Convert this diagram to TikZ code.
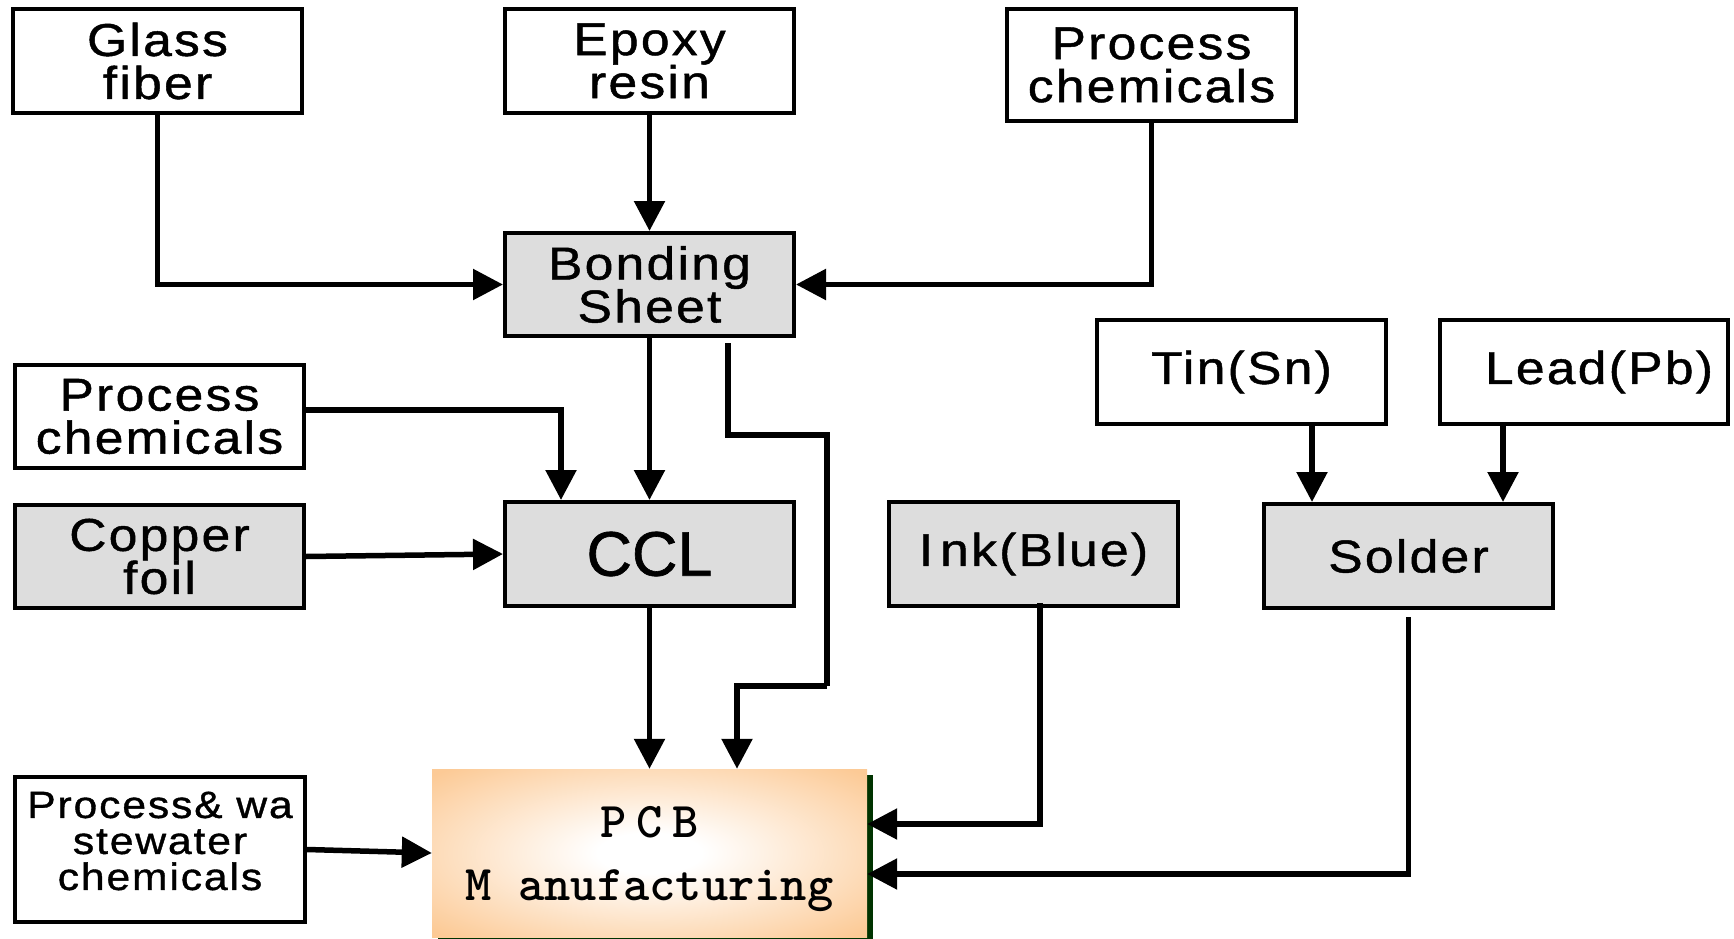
\documentclass[tikz,border=0pt]{standalone}
\usepackage{fontspec}
\usetikzlibrary{arrows.meta,shadows}

% label face: slightly widened sans with a touch of tracking
\newfontfamily\lblfont[FakeStretch=1.12,LetterSpace=5,FakeBold=1]{Liberation Sans}
% plain face for the large CCL caption
\newfontfamily\bigfont[FakeBold=1]{Liberation Sans}

\definecolor{boxgray}{RGB}{221,221,221}
\definecolor{pcborange}{RGB}{252,202,150}
\definecolor{pcbgreen}{RGB}{0,51,0}

% soft glow for the manufacturing block
\pgfdeclareradialshading{pcbglow}{\pgfpoint{0bp}{0bp}}{%
  color(0bp)=(white); color(6bp)=(white); color(34bp)=(pcborange); color(50bp)=(pcborange)}

\tikzset{
  base/.style={draw=black, line width=4pt, inner sep=0pt, align=center,
    minimum width=289pt, minimum height=104pt,
    font=\lblfont\fontsize{46}{43}\selectfont},
  whitebox/.style={base, fill=white},
  graybox/.style={base, fill=boxgray},
  caption/.style={inner sep=0pt, align=center},
  pcbbox/.style={inner sep=0pt, minimum width=435pt, minimum height=168pt,
    shading=pcbglow,
    general shadow={fill=pcbgreen, shadow xshift=6pt, shadow yshift=-6pt}},
  pcbtext/.style={caption, font=\ttfamily\bfseries\fontsize{50}{63}\selectfont},
  flow/.style={line width=5.5pt, -{Triangle[length=30pt,width=30pt]}},
  plain/.style={line width=5.5pt}
}

\begin{document}
\begin{tikzpicture}[x=1pt,y=-1pt]
\useasboundingbox (0,0) rectangle (1734,939);

% raw materials
\node[whitebox] (glass)   at (157.5,61)  {Glass\\fiber};
\node[whitebox] (epoxy)   at (649.5,61)  {Epoxy\\resin};
\node[whitebox, minimum height=112pt] (proctop) at (1151.5,65) {Process\\chemicals};
\node[graybox, minimum height=103pt] (bond) at (649.5,284.5) {Bonding\\Sheet};

\node[whitebox, minimum height=103pt] (procleft) at (159.5,416.5) {Process\\chemicals};
\node[graybox, minimum height=103pt] (copper) at (159.5,556.5) {Copper\\foil};
\node[graybox, font=\bigfont\fontsize{63}{63}\selectfont] (ccl) at (649.5,554) {CCL};
\node[graybox] (ink)    at (1033.5,554) {I\hspace{7pt}nk(Blue)};
\node[graybox] (solder) at (1408.5,556) {Solder};
\node[whitebox] (tin)   at (1241.5,372) {Tin(Sn)};
\node[whitebox, minimum width=288pt] (lead) at (1584,372) {\hspace*{30pt}Lead(Pb)};

\node[whitebox, minimum width=290pt, minimum height=145pt] (ww) at (160,849.5) {};
\node[caption, font=\lblfont\fontsize{38}{36}\selectfont] (wwlabel) at (160,841)
      {Process\& wa\\stewater\\chemicals};

% final product
\node[pcbbox] (pcb) at (649.5,853) {};
\node[pcbtext] (pcblabel) at (649.5,859) {P\hspace{10pt}C\hspace{10pt}B\\M anufacturing};

% feeds into the bonding sheet
\draw[flow] (glass.south) |- (bond.west);
\draw[flow] (epoxy.south) -- (bond.north);
\draw[flow] (proctop.south) |- (bond.east);

% laminate stage
\draw[flow] (bond.south) -- (ccl.north);
\draw[flow] (procleft.east |- 0,410) -| (ccl.north -| 561,0);
\draw[flow] (copper.east) -- (ccl.west);

% bonding sheet routed straight to manufacturing
\coordinate (bondtap) at (728,343);
\draw[plain] (bondtap) |- (827,435) -- (827,686);
\draw[flow] (827,686) -| (pcb.north -| 737,0);

% inputs to manufacturing
\draw[flow] (ccl.south) -- (pcb.north);
\draw[flow] (ww.east) -- (pcb.west);
\draw[flow] (1040,603) |- (pcb.east |- 0,824);
\draw[flow] (1408.5,617) |- (pcb.east |- 0,874);

% alloy components into solder
\draw[flow] (tin.south -| 1312,0) -- (solder.north -| 1312,0);
\draw[flow] (lead.south -| 1503,0) -- (solder.north -| 1503,0);
\end{tikzpicture}
\end{document}
